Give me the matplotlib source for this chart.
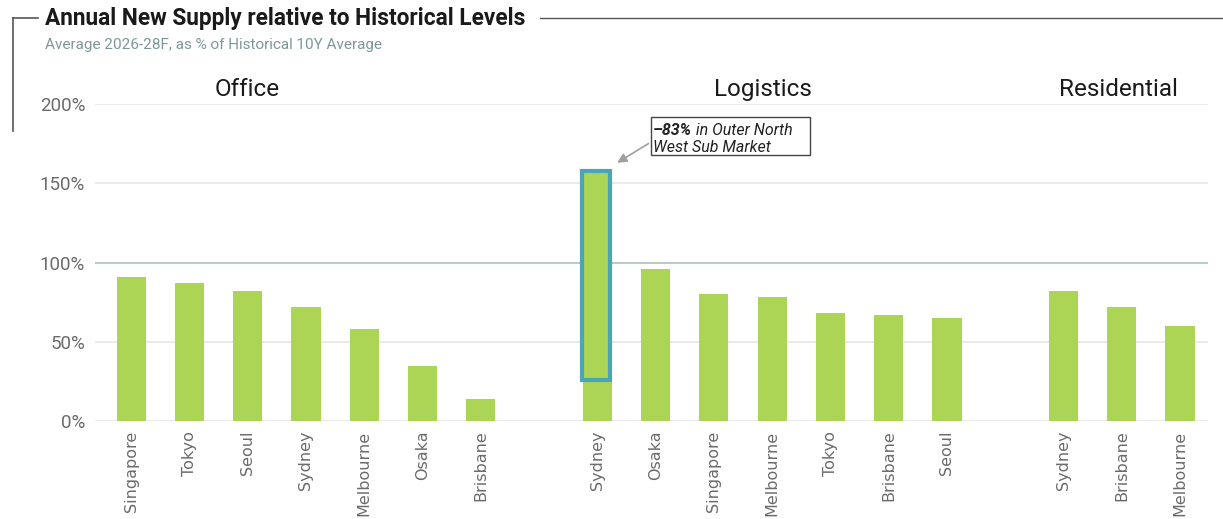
import matplotlib
matplotlib.use("Agg")
import matplotlib.pyplot as plt
from matplotlib.patches import Rectangle
from matplotlib.lines import Line2D

# Data: average 2026-28F annual new supply as % of the historical 10Y average
office_cities = ["Singapore", "Tokyo", "Seoul", "Sydney", "Melbourne", "Osaka", "Brisbane"]
office_values = [91, 87, 82, 72, 58, 35, 14]

logistics_cities = ["Sydney", "Osaka", "Singapore", "Melbourne", "Tokyo", "Brisbane", "Seoul"]
logistics_values = [157, 96, 80, 78, 68, 67, 65]

residential_cities = ["Sydney", "Brisbane", "Melbourne"]
residential_values = [82, 72, 60]

sectors = ["Office", "Logistics", "Residential"]
y_ticks = [0, 50, 100, 150, 200]
y_tick_labels = ["0%", "50%", "100%", "150%", "200%"]

# Sydney logistics: remaining supply after the -83% Outer North West sub market
highlight_low = 26
annotation_bold = "\u201383%"
annotation_line1 = " in Outer North"
annotation_line2 = "West Sub Market"

BAR = "#acd555"
GRID = "#e4e4e4"
REF = "#a9bdbb"
TEAL = "#4ba5b6"
TICK_GRAY = "#6b6b6b"

W, H = 1223, 519
fig = plt.figure(figsize=(W / 100, H / 100), dpi=100)

left_px, right_px = 95, 1208
bottom_px, top200_px = 421, 104
ax = fig.add_axes([left_px / W, 1 - bottom_px / H,
                   (right_px - left_px) / W, (bottom_px - top200_px) / H])

groups = [office_cities, logistics_cities, residential_cities]
group_vals = [office_values, logistics_values, residential_values]
positions, labels, values = [], [], []
pos = 0
for cities, vals in zip(groups, group_vals):
    for c, v in zip(cities, vals):
        positions.append(pos)
        labels.append(c)
        values.append(v)
        pos += 1
    pos += 1  # empty slot between sectors

ax.bar(positions, values, width=0.5, color=BAR, zorder=3)

ax.set_xlim(-0.62, positions[-1] + 0.48)
ax.set_ylim(0, 200)

for t in y_ticks:
    ax.axhline(t, color=REF if t == 100 else GRID, lw=1.1, zorder=1)

ax.set_yticks(y_ticks)
ax.set_yticklabels(y_tick_labels, fontsize=13.5, color=TICK_GRAY, family="Roboto")
ax.set_xticks(positions)
ax.set_xticklabels(labels, rotation=90, fontsize=11.5, color=TICK_GRAY,
                   family="DejaVu Sans", va="top")
ax.tick_params(axis="both", length=0)
ax.tick_params(axis="y", pad=7)
ax.tick_params(axis="x", pad=7)
for s in ax.spines.values():
    s.set_visible(False)

# Sector headers
header_x = [2.0, 10.85, 16.95]
for name, hx in zip(sectors, header_x):
    ax.text(hx, 209, name, ha="center", va="center", fontsize=17.5,
            family="Roboto", color="#1a1a1a", clip_on=False)

# Highlight box on Sydney logistics bar
syd = positions[len(office_cities)]
ax.add_patch(Rectangle((syd - 0.27, highlight_low), 0.49,
                       logistics_values[0] - highlight_low + 0.5,
                       fill=False, edgecolor=TEAL, lw=3, zorder=4))

# Annotation
ax.annotate("", xy=(syd + 0.3, 162), xytext=(syd + 0.92, 176),
            arrowprops=dict(arrowstyle="-|>", color="#a0a0a0", lw=1.2,
                            mutation_scale=14), zorder=5)
ax.add_patch(Rectangle((syd + 0.93, 168), 2.72, 24, fill=True, facecolor="white",
                       edgecolor="#444444", lw=1.0, zorder=5, clip_on=False))
t1 = ax.text(syd + 0.96, 188, annotation_bold, fontsize=11.5, style="italic",
             weight="bold", family="Roboto", color="#222222", va="top", zorder=6)
fig.canvas.draw()
bb = t1.get_window_extent()
inv = ax.transData.inverted()
x_end = inv.transform((bb.x1, bb.y1))[0]
ax.text(x_end, 188, annotation_line1, fontsize=11.5, style="italic",
        family="Roboto", color="#222222", va="top", zorder=6)
ax.text(syd + 0.96, 177.5, annotation_line2, fontsize=11.5, style="italic",
        family="Roboto", color="#222222", va="top", zorder=6)

# Title and subtitle
fig.text(45 / W, 1 - 18 / H, "Annual New Supply relative to Historical Levels",
         fontsize=16.3, weight="bold", family="Roboto", color="#1a1a1a",
         ha="left", va="center")
fig.text(45 / W, 1 - 45 / H, "Average 2026-28F, as % of Historical 10Y Average",
         fontsize=11, family="Roboto", color="#7c9896", ha="left", va="center")

# Frame lines around the title
fig.add_artist(Line2D([13 / W, 38 / W], [1 - 18 / H, 1 - 18 / H], color="#555555", lw=1.2))
fig.add_artist(Line2D([13 / W, 13 / W], [1 - 18 / H, 1 - 131 / H], color="#555555", lw=1.2))
fig.add_artist(Line2D([540 / W, 1 - 1 / W], [1 - 18 / H, 1 - 18 / H], color="#555555", lw=1.0))

fig.savefig("out.png", dpi=100)
